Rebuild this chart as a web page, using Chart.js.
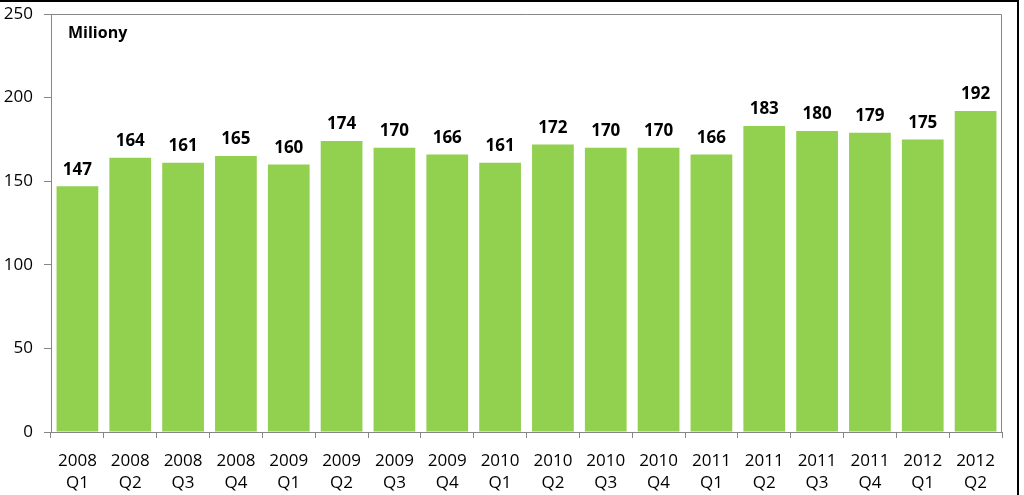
<!DOCTYPE html>
<html>
<head>
<meta charset="utf-8">
<script src="https://cdn.jsdelivr.net/npm/chart.js@4"></script>
<style>
    html, body { margin: 0; padding: 0; background: #fff; }
    #wrap { position: relative; width: 1024px; height: 495px; overflow: hidden; }
    #frame { position: absolute; left: -2px; top: 0; width: 1021px; height: 500px; border-top: 2px solid #000; border-right: 2px solid #000; box-sizing: border-box; pointer-events: none; }
    #unit { position: absolute; left: 68px; top: 21px; font: bold 16px 'Open Sans', sans-serif; color: #000; }
</style>
</head>
<body>
<div id="wrap">
    <canvas id="barChart" width="1024" height="495"></canvas>
    <div id="unit">Miliony</div>
    <div id="frame"></div>
</div>
<script>
const years = ['2008', '2008', '2008', '2008', '2009', '2009', '2009', '2009', '2010', '2010', '2010', '2010', '2011', '2011', '2011', '2011', '2012', '2012'];
const quarters = ['Q1', 'Q2', 'Q3', 'Q4', 'Q1', 'Q2', 'Q3', 'Q4', 'Q1', 'Q2', 'Q3', 'Q4', 'Q1', 'Q2', 'Q3', 'Q4', 'Q1', 'Q2'];
const values = [147, 164, 161, 165, 160, 174, 170, 166, 161, 172, 170, 170, 166, 183, 180, 179, 175, 192];
const yTicks = [0, 50, 100, 150, 200, 250];

const fontFamily = "'Open Sans', sans-serif";

const labels = years.map((y, i) => [y, quarters[i]]);

// value labels above bars + gray plot border
const barLabels = {
    id: 'barLabels',
    afterDatasetsDraw(chart) {
        const ctx = chart.ctx;
        const meta = chart.getDatasetMeta(0);
        ctx.save();
        ctx.font = 'bold 17px ' + fontFamily;
        ctx.fillStyle = '#000';
        ctx.textAlign = 'center';
        ctx.textBaseline = 'bottom';
        meta.data.forEach((bar, i) => {
            ctx.fillText(String(values[i]), bar.x, bar.y - 8);
        });
        const a = chart.chartArea;
        ctx.strokeStyle = '#868686';
        ctx.lineWidth = 1;
        ctx.beginPath();
        ctx.moveTo(a.left, a.top + 0.5);
        ctx.lineTo(a.right - 0.5, a.top + 0.5);
        ctx.lineTo(a.right - 0.5, a.bottom);
        ctx.stroke();
        ctx.restore();
    }
};

const ctx = document.getElementById('barChart').getContext('2d');
new Chart(ctx, {
    type: 'bar',
    data: {
        labels: labels,
        datasets: [{
            data: values,
            backgroundColor: '#92D050',
            categoryPercentage: 1,
            barPercentage: 0.79
        }]
    },
    options: {
        responsive: false,
        animation: false,
        layout: { padding: { top: 14, right: 22, left: 0, bottom: 0 } },
        plugins: {
            legend: { display: false },
            tooltip: { enabled: false }
        },
        scales: {
            y: {
                min: 0,
                max: 250,
                afterFit: (scale) => {
                    scale.width = 51;
                    scale.paddingTop = 0;
                    scale.paddingBottom = 0;
                },
                afterBuildTicks: (scale) => { scale.ticks = yTicks.map(v => ({ value: v })); },
                grid: { drawOnChartArea: false, color: '#868686', tickLength: 7 },
                border: { color: '#868686' },
                ticks: { color: '#000', padding: 11, font: { family: fontFamily, size: 17 } }
            },
            x: {
                afterFit: (scale) => { scale.height = 63; },
                grid: { drawOnChartArea: false, color: '#868686', tickLength: 6 },
                border: { color: '#868686' },
                ticks: { color: '#000', padding: 12, maxRotation: 0, autoSkip: false, font: { family: fontFamily, size: 17, lineHeight: 1.3 } }
            }
        }
    },
    plugins: [barLabels]
});
</script>
</body>
</html>
